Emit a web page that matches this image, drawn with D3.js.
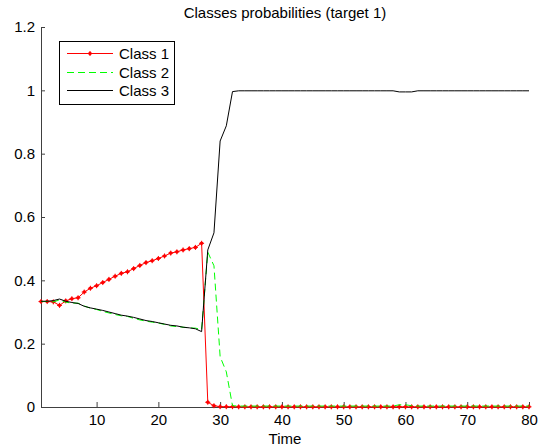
<!DOCTYPE html>
<html><head><meta charset="utf-8">
<script src="https://cdn.jsdelivr.net/npm/d3@7"></script>
<style>body{margin:0;background:#fff}svg{display:block}text{font-family:"Liberation Sans",Arial,sans-serif}</style>
</head><body>
<svg id="c" width="549" height="448"></svg>
<script>
const title = "Classes probabilities (target 1)";
const xLabel = "Time";
const seriesNames = ["Class 1", "Class 2", "Class 3"];
const xTicks = [10, 20, 30, 40, 50, 60, 70, 80];
const yTicks = [0, 0.2, 0.4, 0.6, 0.8, 1, 1.2];

// values for t = 1..32
const class1Head = [0.333,0.333,0.332,0.321,0.335,0.342,0.345,0.363,0.375,0.383,0.393,0.403,0.413,0.422,0.427,0.437,0.447,0.456,0.462,0.469,0.477,0.486,0.490,0.496,0.500,0.504,0.517,0.015,0.004,0.001,0.001,0.001];
const class2Head = [0.333,0.333,0.332,0.338,0.331,0.328,0.328,0.319,0.312,0.308,0.302,0.297,0.292,0.288,0.286,0.280,0.275,0.271,0.268,0.265,0.261,0.256,0.254,0.252,0.250,0.249,0.245,0.489,0.446,0.159,0.111,0.004];
const class3Head = [0.334,0.334,0.336,0.341,0.334,0.330,0.327,0.318,0.313,0.309,0.305,0.300,0.295,0.290,0.287,0.283,0.278,0.273,0.270,0.266,0.262,0.258,0.256,0.252,0.250,0.247,0.238,0.496,0.550,0.840,0.888,0.996];
// values for t = 33..80
const class1Tail = [0.0005,0.0005,0.0005,0.0005,0.0005,0.0005,0.0005,0.0005,0.0005,0.0005,0.0005,0.0005,0.0005,0.0005,0.0005,0.0005,0.0005,0.0005,0.0005,0.0005,0.0005,0.0005,0.0005,0.0005,0.0005,0.0005,0.0005,0.0005,0.0005,0.0005,0.0005,0.0005,0.0005,0.0005,0.0005,0.0005,0.0005,0.0005,0.0005,0.0005,0.0005,0.0005,0.0005,0.0005,0.0005,0.0005,0.0005,0.0005];
const class2Tail = [0.003,0.003,0.003,0.003,0.003,0.003,0.003,0.003,0.003,0.003,0.003,0.003,0.003,0.003,0.003,0.003,0.003,0.003,0.003,0.003,0.003,0.003,0.003,0.003,0.003,0.003,0.007,0.007,0.004,0.003,0.003,0.003,0.003,0.003,0.003,0.003,0.003,0.003,0.003,0.003,0.003,0.003,0.003,0.003,0.003,0.003,0.003,0.003];
const class3Tail = [0.9985,0.9985,0.9985,0.9985,0.9985,0.9985,0.9985,0.9985,0.9985,0.9985,0.9985,0.9985,0.9985,0.9985,0.9985,0.9985,0.9985,0.9985,0.9985,0.9985,0.9985,0.9985,0.9985,0.9985,0.9985,0.9985,0.995,0.995,0.995,0.9985,0.9985,0.9985,0.9985,0.9985,0.9985,0.9985,0.9985,0.9985,0.9985,0.9985,0.9985,0.9985,0.9985,0.9985,0.9985,0.9985,0.9985,0.9985];

const class1 = class1Head.concat(class1Tail);
const class2 = class2Head.concat(class2Tail);
const class3 = class3Head.concat(class3Tail);
const times = d3.range(1, class1.length + 1);

const svg = d3.select("#c");
svg.append("rect").attr("width",549).attr("height",448).attr("fill","#fff");

const x = d3.scaleLinear().domain([1, 80]).range([41, 529]);
const y = d3.scaleLinear().domain([0, 1.2]).range([407, 27]);

const axisColor = "#404040";
const fs = 15;

// axes
const gx = svg.append("g").attr("transform","translate(0,407)")
  .call(d3.axisBottom(x).tickValues(xTicks).tickSizeInner(-5).tickSizeOuter(0).tickPadding(7));
const gy = svg.append("g").attr("transform","translate(41,0)")
  .call(d3.axisLeft(y).tickValues(yTicks).tickSizeInner(-4).tickSizeOuter(0).tickPadding(6)
        .tickFormat(d => String(d)));
[gx, gy].forEach(g => {
  g.select(".domain").attr("stroke", axisColor).attr("stroke-width",1);
  g.selectAll(".tick line").attr("stroke", axisColor);
  g.selectAll(".tick text").attr("fill","#000").attr("font-size",fs)
    .attr("font-family",'"Liberation Sans",Arial,sans-serif');
});

// lines
const line = vals => d3.line().x((d,i)=>x(times[i])).y(d=>y(d))(vals);
const colors = ["#ff0000", "#00ff00", "#000000"];
const dashes = [null, "7,4", null];
const all = [class1, class2, class3];

all.forEach((vals, k) => {
  svg.append("path").attr("d", line(vals)).attr("fill","none")
    .attr("stroke", colors[k]).attr("stroke-width",1)
    .attr("stroke-dasharray", dashes[k]);
  if (k === 0) {
    svg.append("g").selectAll("g").data(vals).join("g")
      .attr("transform",(d,i)=>`translate(${x(times[i])},${y(d)})`)
      .each(function(){
        const g = d3.select(this);
        g.append("circle").attr("r",1.8).attr("fill",colors[0]);
        g.append("path").attr("d","M-2.5,0H2.5M0,-2.5V2.5").attr("stroke",colors[0]).attr("stroke-width",1);
      });
  }
});

// title & label
svg.append("text").attr("x",285).attr("y",18).attr("text-anchor","middle")
  .attr("font-size",fs).attr("fill","#000").text(title);
svg.append("text").attr("x",285).attr("y",444).attr("text-anchor","middle")
  .attr("font-size",fs).attr("fill","#000").text(xLabel);

// legend
const lg = svg.append("g");
lg.append("rect").attr("x",59.5).attr("y",41.5).attr("width",115).attr("height",63)
  .attr("fill","#fff").attr("stroke","#000").attr("stroke-width",1);
const rowY = [53.5, 72.5, 90.5];
seriesNames.forEach((name, k) => {
  lg.append("line").attr("x1",67).attr("x2",113).attr("y1",rowY[k]).attr("y2",rowY[k])
    .attr("stroke",colors[k]).attr("stroke-width",1).attr("stroke-dasharray",dashes[k]);
  if (k === 0) {
    lg.append("circle").attr("cx",90).attr("cy",rowY[k]).attr("r",1.8).attr("fill",colors[0]);
    lg.append("path").attr("d",`M87.5,${rowY[k]}H92.5M90,${rowY[k]-2.5}V${rowY[k]+2.5}`).attr("stroke",colors[0]);
  }
  lg.append("text").attr("x",119).attr("y",rowY[k]).attr("dy","0.36em")
    .attr("font-size",fs).attr("fill","#000").text(name);
});
</script>
</body></html>
